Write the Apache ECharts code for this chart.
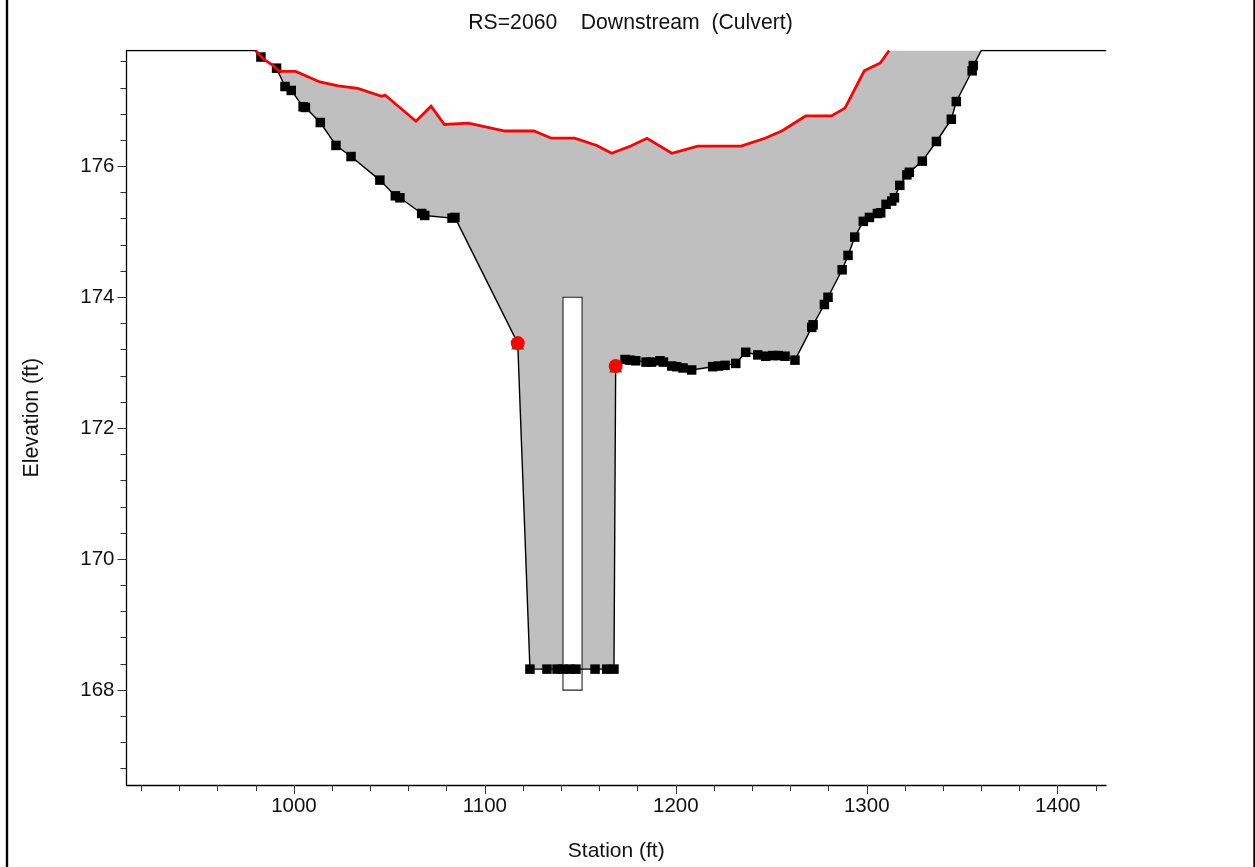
<!DOCTYPE html>
<html><head><meta charset="utf-8">
<style>html,body{margin:0;padding:0;background:#fff}#c{width:1255px;height:867px}</style>
<script src="https://cdn.jsdelivr.net/npm/echarts@6/dist/echarts.min.js"></script>
</head><body><div id="c"></div>
<script>
// Ground profile [station, elevation]
const groundLeftTop = [[912.3,177.77],[979.9,177.77]];
const groundMarkers = [[982.7,177.67],[990.9,177.50],[995.3,177.22],[998.6,177.16],[1004.8,176.91],[1006.0,176.90],[1013.8,176.67],[1022.0,176.32],[1029.9,176.15],[1045.0,175.79],[1053.1,175.55],[1055.5,175.52],[1066.9,175.28],[1068.5,175.25],[1082.8,175.21],[1084.3,175.22],[1123.6,168.32],[1132.5,168.32],[1137.8,168.32],[1140.9,168.32],[1144.6,168.32],[1147.7,168.32],[1157.7,168.32],[1163.8,168.32],[1167.6,168.32],[1173.4,173.05],[1176.0,173.04],[1179.0,173.03],[1184.4,173.01],[1187.2,173.01],[1191.7,173.03],[1193.5,173.01],[1197.9,172.95],[1200.5,172.94],[1203.8,172.92],[1208.3,172.89],[1219.3,172.94],[1222.3,172.95],[1225.8,172.96],[1231.4,172.99],[1236.6,173.16],[1242.9,173.12],[1247.1,173.10],[1250.8,173.11],[1253.7,173.11],[1257.2,173.10],[1262.4,173.04],[1271.2,173.54],[1271.9,173.58],[1277.8,173.89],[1279.7,174.00],[1287.1,174.42],[1290.2,174.64],[1293.7,174.92],[1298.2,175.16],[1301.4,175.22],[1305.6,175.28],[1307.3,175.29],[1310.1,175.42],[1313.1,175.47],[1314.5,175.52],[1317.3,175.71],[1321.0,175.87],[1322.3,175.91],[1329.1,176.08],[1336.5,176.38],[1344.3,176.72],[1346.9,176.99],[1355.2,177.46],[1355.8,177.54]];
const bankStations = [[1117.2,173.30],[1168.5,172.95]];
const groundRightTop = [[1360.0,177.77],[1425.3,177.77]];
// Deck / road line (red)
const deckLine = [[979.9,177.77],[983.9,177.64],[989.2,177.54],[992.3,177.45],[1000.9,177.45],[1013.6,177.29],[1023.2,177.23],[1033.4,177.19],[1045.9,177.07],[1047.7,177.09],[1063.9,176.69],[1071.8,176.92],[1078.8,176.64],[1091.4,176.66],[1110.5,176.54],[1125.7,176.54],[1134.8,176.43],[1147.0,176.43],[1158.6,176.32],[1166.4,176.20],[1176.4,176.31],[1184.9,176.43],[1197.9,176.20],[1211.5,176.31],[1234.2,176.31],[1246.7,176.43],[1255.5,176.54],[1268.0,176.77],[1281.5,176.77],[1288.6,176.89],[1298.7,177.46],[1307.1,177.58],[1311.7,177.77]];
// Culvert opening [left, right, bottom, top]
const culvert = [1140.9,1150.9,168,174];
// Axis ticks
const xMajorTicks = [1000,1100,1200,1300,1400];
const xMinorTicks = [920,940,960,980,1020,1040,1060,1080,1120,1140,1160,1180,1220,1240,1260,1280,1320,1340,1360,1380,1420];
const yMajorTicks = [168,170,172,174,176];
const yMinorTicks = [166.8,167.2,167.6,168.4,168.8,169.2,169.6,170.4,170.8,171.2,171.6,172.4,172.8,173.2,173.6,174.4,174.8,175.2,175.6,176.4,176.8,177.2,177.6];
const xRange = [912.3,1425.3];
const yRange = [166.55,177.77];

const ground = [...groundLeftTop, ...[...groundMarkers, ...bankStations].sort((a,b)=>a[0]-b[0]), ...groundRightTop];
const fillOutline = [...deckLine, [1360.0,177.77], ...ground.filter(p=>p[0]>=979.9 && p[0]<=1360).reverse()];

const FONT = 'Liberation Sans, Arial, sans-serif';
const SIZE = 21;
const chart = echarts.init(document.getElementById('c'), null, {renderer:'canvas'});
function xAxis(ticks, len, labels){
  return {type:'value', min:xRange[0], max:xRange[1], position:'bottom', splitLine:{show:false},
    axisLine:{show:labels, onZero:false, lineStyle:{color:'#000',width:1.3}},
    axisTick:{show:true, length:len, customValues:ticks, lineStyle:{color:'#333',width:1}},
    axisLabel:{show:labels, customValues:ticks, color:'#111', fontFamily:FONT, fontSize:SIZE-0.5, margin:11, formatter:v=>String(v)},
    name:labels?'Station (ft)':'', nameLocation:'middle', nameGap:56,
    nameTextStyle:{color:'#111', fontFamily:FONT, fontSize:SIZE}};
}
function yAxis(ticks, len, labels){
  return {type:'value', min:yRange[0], max:yRange[1], position:'left', splitLine:{show:false},
    axisLine:{show:labels, onZero:false, lineStyle:{color:'#000',width:1.3}},
    axisTick:{show:true, length:len, customValues:ticks, lineStyle:{color:'#333',width:1}},
    axisLabel:{show:labels, customValues:ticks, color:'#111', fontFamily:FONT, fontSize:SIZE-0.5, margin:12, formatter:v=>String(v)},
    name:labels?'Elevation (ft)':'', nameLocation:'middle', nameGap:84, nameRotate:90,
    nameTextStyle:{color:'#111', fontFamily:FONT, fontSize:SIZE+0.3}};
}
chart.setOption({
  animation:false, backgroundColor:'#fff',
  title:{text:'RS=2060    Downstream  (Culvert)', left:625.5, top:8, textAlign:'center',
    textStyle:{color:'#111', fontFamily:FONT, fontSize:SIZE+0.2, fontWeight:'normal'}},
  grid:{left:126.5, top:50.5, width:979.5, height:734.5, containLabel:false},
  xAxis:[xAxis(xMajorTicks,9,true), xAxis(xMinorTicks,6,false)],
  yAxis:[yAxis(yMajorTicks,9,true), yAxis(yMinorTicks,6,false)],
  graphic:[
    {type:'rect', shape:{x:7,y:-3,width:1247.5,height:875}, style:{fill:'none',stroke:'#000',lineWidth:2.4}, silent:true}
  ],
  series:[
    {type:'custom', z:1, clip:true, silent:true, data:[0],
     renderItem:(p,api)=>({type:'polygon', shape:{points:fillOutline.map(q=>api.coord(q))}, style:{fill:'#bfbfbf',stroke:null}})},
    {type:'custom', z:2, clip:true, silent:true, data:[culvert],
     renderItem:(p,api)=>{const a=api.coord([culvert[0],culvert[3]]),b=api.coord([culvert[1],culvert[2]]);
       return {type:'rect', shape:{x:a[0],y:a[1],width:b[0]-a[0],height:b[1]-a[1]}, style:{fill:'#fff',stroke:'#222',lineWidth:1.1}};}},
    {type:'line', z:3, data:ground, showSymbol:false, symbol:'none', lineStyle:{color:'#000',width:1.4}, silent:true},
    {type:'scatter', z:4, data:groundMarkers, symbol:'rect', symbolSize:9.5, itemStyle:{color:'#000',opacity:1}, silent:true},
    {type:'line', z:5, data:deckLine, symbol:'none', lineStyle:{color:'#ff0000',width:2.8,join:'miter'}, silent:true},
    {type:'scatter', z:6, data:bankStations, symbol:'triangle', symbolSize:13, itemStyle:{color:'#0a7a0a',opacity:1}, silent:true},
    {type:'scatter', z:7, data:bankStations, symbol:'circle', symbolSize:14, itemStyle:{color:'#ff0000',opacity:1}, silent:true}
  ]
});
</script></body></html>
